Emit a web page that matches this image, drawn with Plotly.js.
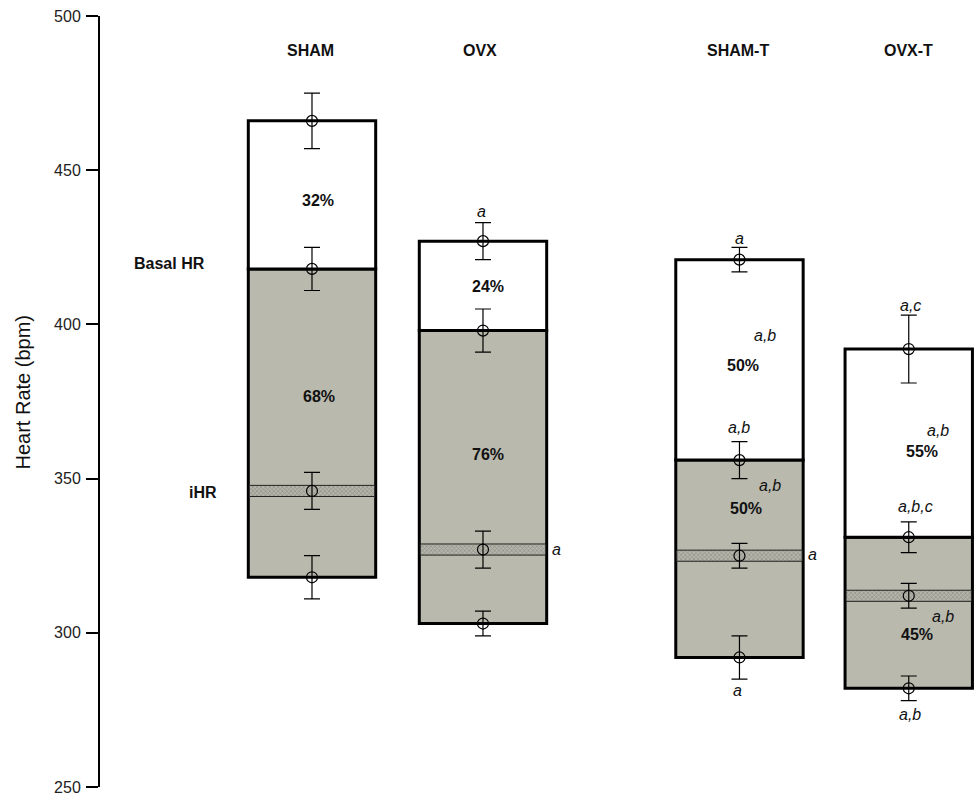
<!DOCTYPE html>
<html>
<head>
<meta charset="utf-8">
<script src="https://cdn.plot.ly/plotly-3.0.1.min.js"></script>
<style>html,body{margin:0;padding:0;background:#fff;}#chart{width:978px;height:794px;}</style>
</head>
<body>
<div id="chart"></div>
<script>
// ---- data (bpm) ----
const groups   = ['SHAM', 'OVX', 'SHAM-T', 'OVX-T'];
const maxHR    = [466, 427, 421, 392];
const maxErr   = [9, 6, 4, 11];
const basalHR  = [418, 398, 356, 331];
const basalErr = [7, 7, 6, 5];
const iHR      = [346, 327, 325, 312];
const iHRErr   = [6, 6, 4, 4];
const minHR    = [318, 303, 292, 282];
const minErr   = [7, 4, 7, 4];
const pctUpper = ['32%', '24%', '50%', '55%'];
const pctLower = ['68%', '76%', '50%', '45%'];
const yTicks   = [250, 300, 350, 400, 450, 500];

// ---- layout helpers ----
const xPos = [0, 1, 2.5, 3.49];
const barW = 0.745;
const bandHalf = 1.8;
const FONT = 'Liberation Sans, Arial, sans-serif';

const grayBar = {
  type: 'bar', x: xPos, base: minHR,
  y: basalHR.map((v, i) => v - minHR[i]),
  width: barW,
  marker: {color: '#b9b9ad', line: {color: '#000', width: 3}},
  hoverinfo: 'skip', showlegend: false
};
const whiteBar = {
  type: 'bar', x: xPos, base: basalHR,
  y: maxHR.map((v, i) => v - basalHR[i]),
  width: barW,
  marker: {color: '#ffffff', line: {color: '#000', width: 3}},
  hoverinfo: 'skip', showlegend: false
};
const band = {
  type: 'bar', x: xPos, base: iHR.map(v => v - bandHalf),
  y: iHR.map(() => 2 * bandHalf),
  width: barW - 0.012,
  marker: {color: '#a9a99f', line: {color: '#222', width: 1},
           pattern: {shape: 'x', size: 3, solidity: 0.35, fgcolor: '#8a8a80', bgcolor: '#b4b4aa', fillmode: 'replace'}},
  hoverinfo: 'skip', showlegend: false
};

const px = [], py = [], pe = [];
groups.forEach((g, i) => {
  [[maxHR, maxErr], [basalHR, basalErr], [iHR, iHRErr], [minHR, minErr]].forEach(([v, e]) => {
    px.push(xPos[i]); py.push(v[i]); pe.push(e[i]);
  });
});
const points = {
  type: 'scatter', mode: 'markers', x: px, y: py,
  marker: {symbol: 'circle-open', size: 11, color: '#000', line: {width: 1.2, color: '#000'}},
  error_y: {type: 'data', array: pe, visible: true, color: '#000', thickness: 1.2, width: 8},
  hoverinfo: 'skip', showlegend: false
};

const ann = [];
function add(text, x, y, opts) {
  ann.push(Object.assign({text: text, x: x, y: y, xref: 'x', yref: 'y', showarrow: false,
    xanchor: 'center', yanchor: 'middle', font: {family: FONT, size: 16, color: '#111'}}, opts || {}));
}
const bold = t => '<b>' + t + '</b>';
const ital = t => '<i>' + t + '</i>';

// group headers
const headerX = [-0.006, 0.98, 2.49, 3.49];
groups.forEach((g, i) => add(bold(g), headerX[i], 488.8));
// percentages
const upX = [0.035, 1.03, 2.52, 3.57], upY = [440.2, 412.2, 386.7, 358.7];
const loX = [0.04, 1.03, 2.54, 3.54], loY = [376.5, 357.7, 340.2, 299.4];
pctUpper.forEach((t, i) => add(bold(t), upX[i], upY[i]));
pctLower.forEach((t, i) => add(bold(t), loX[i], loY[i]));
// side labels
add(bold('Basal HR'), -0.836, 419.6);
add(bold('iHR'), -0.637, 345.4);
// significance letters
[
  ['a', 0.99, 436.6], ['a', 1.43, 327.0],
  ['a', 2.5, 427.7], ['a,b', 2.65, 396.4], ['a,b', 2.5, 366.5], ['a,b', 2.68, 347.7],
  ['a', 2.93, 325.3], ['a', 2.49, 281.3],
  ['a,c', 3.5, 406], ['a,b', 3.66, 365.5], ['a,b,c', 3.53, 340.9],
  ['a,b', 3.69, 305.3], ['a,b', 3.5, 273.5]
].forEach(([t, x, y]) => add(ital(t), x, y));
add(ital('a'), 3.893, 312.4, {xanchor: 'left'});
// y-axis title
ann.push({text: 'Heart Rate (bpm)', xref: 'paper', yref: 'paper', x: -0.0877, y: 0.513,
  textangle: -90, showarrow: false, xanchor: 'center', yanchor: 'middle',
  font: {family: FONT, size: 20, color: '#111'}});

const layout = {
  width: 978, height: 794,
  margin: {l: 100, r: 0, t: 16, b: 7},
  paper_bgcolor: '#fff', plot_bgcolor: '#fff',
  barmode: 'overlay', bargap: 0,
  xaxis: {range: [-1.2398, 3.895], showgrid: false, zeroline: false, showline: false,
          showticklabels: false, ticks: '', fixedrange: true},
  yaxis: {range: [250, 500], tickvals: yTicks, ticktext: yTicks.map(String),
          showgrid: false, zeroline: false, showline: true, linecolor: '#000', linewidth: 2,
          ticks: 'outside', ticklen: 12, tickwidth: 2, tickcolor: '#000',
          ticklabeloverflow: 'allow',
          tickfont: {family: FONT, size: 16, color: '#222'}, ticklabelstandoff: 2},
  annotations: ann
};

Plotly.newPlot('chart', [grayBar, whiteBar, band, points], layout, {staticPlot: true});
</script>
</body>
</html>
